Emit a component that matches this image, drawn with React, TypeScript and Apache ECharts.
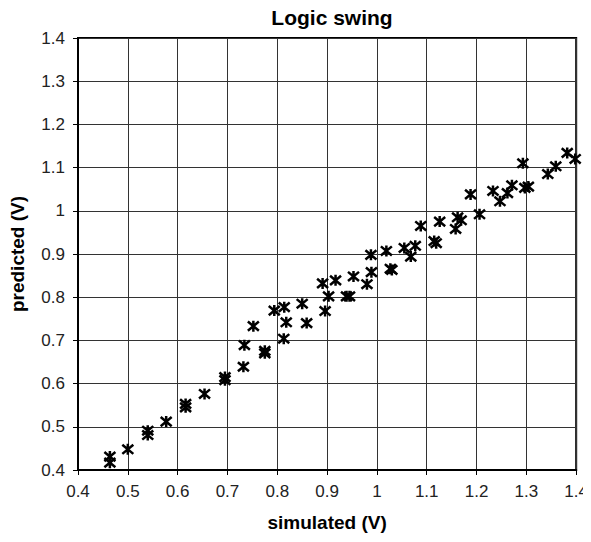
import React, { useEffect, useRef } from "react";
import * as echarts from "echarts";

const simulated: number[] = [
  0.464, 0.464, 0.5, 0.54, 0.54, 0.577, 0.616, 0.616, 0.654, 0.695,
  0.695, 0.732, 0.734, 0.752, 0.775, 0.775, 0.794, 0.813, 0.814, 0.818,
  0.85, 0.859, 0.896, 0.891, 0.903, 0.917, 0.939, 0.945, 0.953, 0.98,
  0.989, 0.988, 1.019, 1.027, 1.03, 1.055, 1.068, 1.077, 1.088, 1.115,
  1.119, 1.126, 1.158, 1.162, 1.169, 1.188, 1.206, 1.233, 1.247, 1.262,
  1.271, 1.293, 1.297, 1.304, 1.343, 1.359, 1.382, 1.398,
];
const predicted: number[] = [
  0.431, 0.417, 0.448, 0.491, 0.481, 0.512, 0.553, 0.545, 0.576, 0.615,
  0.608, 0.639, 0.689, 0.733, 0.676, 0.67, 0.769, 0.704, 0.777, 0.742,
  0.785, 0.74, 0.768, 0.832, 0.802, 0.839, 0.802, 0.802, 0.848, 0.83,
  0.858, 0.898, 0.907, 0.866, 0.863, 0.914, 0.894, 0.919, 0.965, 0.93,
  0.925, 0.975, 0.958, 0.985, 0.978, 1.038, 0.992, 1.046, 1.022, 1.041,
  1.059, 1.11, 1.053, 1.056, 1.085, 1.103, 1.134, 1.12,
];

const title = "Logic swing";
const xName = "simulated (V)";
const yName = "predicted (V)";

const FONT = "'Liberation Sans', Arial, sans-serif";

export default function App() {
  const ref = useRef<HTMLDivElement>(null);
  useEffect(() => {
    if (!ref.current) return;
    const chart = echarts.init(ref.current, undefined, { renderer: "svg" });
    const data = simulated.map((x, i) => [x, predicted[i]]);
    chart.setOption({
      animation: false,
      backgroundColor: "#fff",
      title: {
        text: title,
        left: 327,
        textAlign: "center",
        top: 2,
        textStyle: { fontFamily: FONT, fontSize: 21, fontWeight: "bold", color: "#000" },
      },
      grid: {
        left: 77,
        top: 38,
        right: 13,
        bottom: 72,
        show: true,
        borderColor: "#000",
        borderWidth: 2,
        backgroundColor: "transparent",
      },
      xAxis: {
        type: "value",
        min: 0.4,
        max: 1.4,
        interval: 0.1,
        name: xName,
        nameLocation: "middle",
        nameGap: 43,
        nameTextStyle: { fontFamily: FONT, fontSize: 19, fontWeight: "bold", color: "#000" },
        axisLine: { show: true, onZero: false, lineStyle: { color: "#000", width: 2 } },
        axisTick: { show: true, length: 5, lineStyle: { color: "#000", width: 1 } },
        axisLabel: { fontFamily: FONT, fontSize: 17, color: "#222", margin: 13 },
        splitLine: { show: true, lineStyle: { color: "#333", width: 1 } },
      },
      yAxis: {
        type: "value",
        min: 0.4,
        max: 1.4,
        interval: 0.1,
        name: yName,
        nameLocation: "middle",
        nameGap: 51,
        nameTextStyle: { fontFamily: FONT, fontSize: 19, fontWeight: "bold", color: "#000" },
        axisLine: { show: true, onZero: false, lineStyle: { color: "#000", width: 2 } },
        axisTick: { show: true, length: 5, lineStyle: { color: "#000", width: 1 } },
        axisLabel: { fontFamily: FONT, fontSize: 17, color: "#222", margin: 13 },
        splitLine: { show: true, lineStyle: { color: "#333", width: 1 } },
      },
      series: [
        {
          type: "scatter",
          data,
          symbol: "path://M0,0L11,10M11,0L0,10M5.5,-1L5.5,11",
          symbolSize: [11, 11],
          itemStyle: { color: "transparent", borderColor: "#000", borderWidth: 2.5, opacity: 1 },
          clip: false,
        },
      ],
    });
    return () => chart.dispose();
  }, []);
  return <div ref={ref} style={{ width: 591, height: 542, margin: -8 }} />;
}
